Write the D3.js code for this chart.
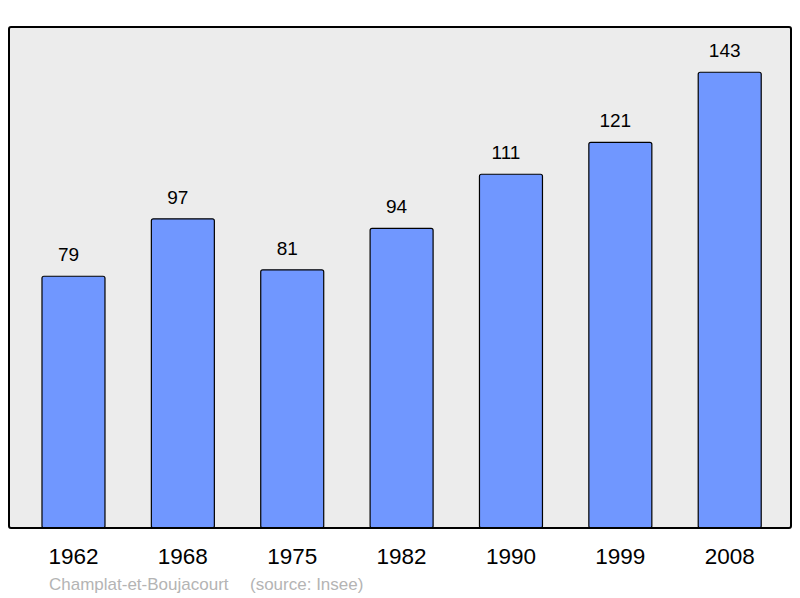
<!DOCTYPE html>
<html>
<head>
<meta charset="utf-8">
<script src="https://cdn.jsdelivr.net/npm/d3@7"></script>
<style>
  body { margin: 0; background: #fff; }
  svg { display: block; font-family: "Liberation Sans", Arial, sans-serif; }
</style>
</head>
<body>
<svg id="chart" width="800" height="598"></svg>
<script>
// données
var annees = ["1962", "1968", "1975", "1982", "1990", "1999", "2008"];
var population = [79, 97, 81, 94, 111, 121, 143];
var commune = "Champlat-et-Boujacourt";
var source = "(source: Insee)";

var svg = d3.select("#chart");

var cadre = {left: 9, top: 27, right: 791, bottom: 528};

// fond
svg.append("rect")
  .attr("x", cadre.left)
  .attr("y", cadre.top)
  .attr("width", cadre.right - cadre.left)
  .attr("height", cadre.bottom - cadre.top)
  .attr("rx", 2)
  .attr("fill", "#ececec");

var x = d3.scaleBand()
  .domain(annees)
  .range([18.8, 784.4])
  .paddingInner(0.424)
  .paddingOuter(0.212);

var y = d3.scaleLinear()
  .domain([0, 157.2])
  .range([cadre.bottom, cadre.top]);

var data = annees.map(function(a, i){ return {annee: a, valeur: population[i]}; });

// barres
svg.append("g")
  .selectAll("rect")
  .data(data)
  .enter().append("rect")
    .attr("x", d => x(d.annee))
    .attr("y", d => y(d.valeur))
    .attr("width", x.bandwidth())
    .attr("height", d => y(0) - y(d.valeur))
    .attr("rx", 2)
    .attr("fill", "#7097ff")
    .attr("stroke", "#000")
    .attr("stroke-width", 1.2);

// valeurs
svg.append("g")
  .selectAll("text")
  .data(data)
  .enter().append("text")
    .attr("x", d => x(d.annee) + x.bandwidth() / 2 - 5)
    .attr("y", d => y(d.valeur) - 15)
    .attr("text-anchor", "middle")
    .attr("font-size", "19px")
    .attr("fill", "#000")
    .text(d => d.valeur);

// contour du cadre
svg.append("rect")
  .attr("x", cadre.left)
  .attr("y", cadre.top)
  .attr("width", cadre.right - cadre.left)
  .attr("height", cadre.bottom - cadre.top)
  .attr("rx", 2)
  .attr("fill", "none")
  .attr("stroke", "#000")
  .attr("stroke-width", 2);

// axe des années
var axe = svg.append("g")
  .attr("transform", `translate(0, ${cadre.bottom})`)
  .call(d3.axisBottom(x).tickSize(0).tickPadding(20));
axe.select(".domain").remove();
axe.selectAll("text")
  .attr("font-size", "22.5px")
  .attr("font-family", "Liberation Sans, Arial, sans-serif")
  .attr("fill", "#000");

// légende
var leg = svg.append("text")
  .attr("y", 590)
  .attr("font-size", "17px")
  .attr("fill", "#b4b4b4");
leg.append("tspan").attr("x", 49).text(commune);
leg.append("tspan").attr("x", 250).text(source);
</script>
</body>
</html>
